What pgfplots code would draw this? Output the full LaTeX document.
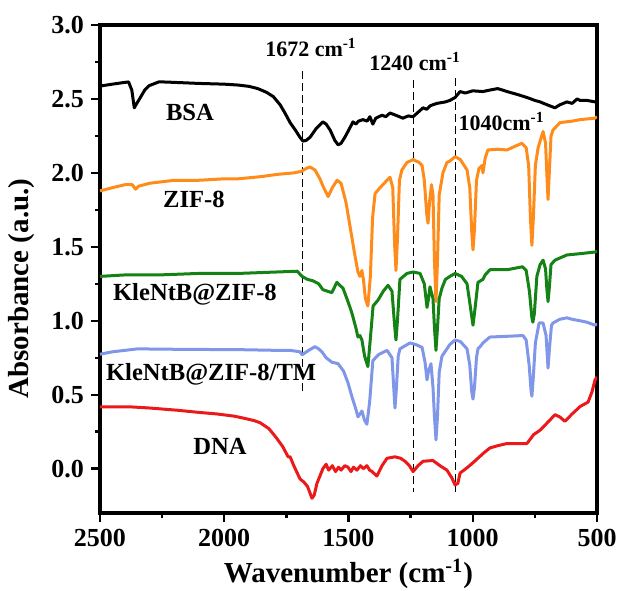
\documentclass[border=0pt]{standalone}
\usepackage{fontspec}
\setmainfont{Liberation Serif}
\usepackage{pgfplots}
\pgfplotsset{compat=1.18}

\definecolor{bsacol}{RGB}{0,0,0}
\definecolor{zifcol}{RGB}{255,140,26}
\definecolor{klecol}{RGB}{20,130,20}
\definecolor{tmcol}{RGB}{128,150,232}
\definecolor{dnacol}{RGB}{235,25,25}

\newcommand{\tickfont}{\fontsize{13}{15}\selectfont\bfseries}
\newcommand{\curvefont}{\fontsize{12.3}{14}\selectfont\bfseries}
\newcommand{\bandfont}{\fontsize{11}{13}\selectfont\bfseries}

\begin{document}
\begin{tikzpicture}
\useasboundingbox (-50pt,-38.5pt) rectangle (259.5pt,256.5pt);
\begin{axis}[
  at={(0,0)}, anchor=south west,
  scale only axis, width=248.5pt, height=244pt,
  xmin=500, xmax=2500, x dir=reverse,
  ymin=-0.3, ymax=3.0,
  xtick={500,1000,1500,2000,2500},
  xticklabels={500,1000,1500,2000,2500},
  ytick={0,0.5,1,1.5,2,2.5,3},
  yticklabels={0.0,0.5,1.0,1.5,2.0,2.5,3.0},
  minor x tick num=1, minor y tick num=1,
  tick align=outside, xtick pos=bottom, ytick pos=left,
  major tick length=4.5pt, minor tick length=2.5pt,
  axis line style={line width=1.6pt},
  every tick/.style={line width=1.2pt, black},
  ticklabel style={font=\tickfont},
  xlabel={Wavenumber (cm\textsuperscript{-1})},
  ylabel={Absorbance (a.u.)},
  label style={font=\fontsize{14.5}{17}\selectfont\bfseries},
  xlabel style={at={(axis description cs:0.5,-0.125)}, anchor=center},
  ylabel style={at={(axis description cs:-0.158,0.46)}, anchor=center},
  every axis plot/.append style={line width=1.5pt, line join=round},
]

% reference bands
\addplot[black, line width=0.5pt, dash pattern=on 4pt off 2pt] coordinates {(1685,2.69) (1685,0.50)};
\addplot[black, line width=0.5pt, dash pattern=on 4pt off 2pt] coordinates {(1240,2.63) (1240,-0.16)};
\addplot[black, line width=0.5pt, dash pattern=on 4pt off 2pt] coordinates {(1070,2.64) (1070,-0.16)};

% BSA
\addplot[bsacol] table {
2500 2.587
2450 2.600
2400 2.612
2385 2.615
2372 2.56
2362 2.44
2352 2.47
2341 2.50
2320 2.56
2302 2.59
2262 2.616
2200 2.612
2103 2.605
2000 2.600
1944 2.594
1900 2.585
1865 2.570
1830 2.545
1802 2.515
1775 2.46
1754 2.40
1735 2.34
1714 2.29
1695 2.24
1683 2.215
1670 2.22
1655 2.24
1630 2.30
1603 2.345
1590 2.33
1574 2.29
1555 2.22
1542 2.19
1530 2.20
1515 2.24
1502 2.28
1482 2.345
1470 2.33
1460 2.35
1442 2.36
1425 2.35
1414 2.38
1402 2.33
1390 2.37
1365 2.39
1350 2.38
1333 2.405
1310 2.39
1281 2.37
1260 2.385
1240 2.38
1220 2.41
1200 2.44
1185 2.43
1170 2.455
1144 2.47
1110 2.48
1092 2.49
1071 2.51
1051 2.55
1030 2.54
1000 2.555
960 2.55
931 2.56
900 2.57
880 2.56
862 2.55
820 2.53
782 2.51
750 2.49
729 2.48
700 2.46
669 2.44
650 2.46
621 2.48
600 2.47
580 2.50
568 2.49
540 2.49
508 2.48
500 2.48
};

% ZIF-8
\addplot[zifcol] table {
2500 1.878
2450 1.90
2400 1.92
2370 1.92
2357 1.89
2345 1.91
2300 1.93
2200 1.95
2103 1.95
2000 1.96
1944 1.96
1850 1.975
1786 1.99
1720 2.00
1690 2.01
1670 2.03
1655 2.04
1635 2.02
1615 1.96
1600 1.90
1582 1.84
1565 1.90
1546 1.95
1530 1.93
1510 1.80
1490 1.60
1475 1.45
1462 1.33
1454 1.30
1446 1.34
1440 1.28
1432 1.15
1422 1.10
1412 1.30
1403 1.70
1393 1.86
1373 1.90
1345 1.95
1333 1.97
1322 1.90
1314 1.50
1309 1.34
1303 1.55
1295 1.95
1285 2.02
1265 2.07
1240 2.09
1215 2.07
1204 2.05
1195 1.95
1185 1.72
1180 1.66
1174 1.80
1166 1.92
1160 1.85
1154 1.40
1148 1.13
1142 1.40
1135 1.85
1120 2.00
1104 2.07
1092 2.08
1071 2.11
1050 2.09
1023 2.02
1012 1.90
1004 1.60
999 1.48
993 1.62
985 1.95
975 2.03
963 2.05
959 2.00
950 2.10
939 2.155
900 2.16
862 2.155
830 2.18
802 2.20
785 2.17
775 2.05
768 1.70
762 1.51
756 1.70
748 2.05
737 2.17
717 2.28
707 2.20
702 2.00
697 1.82
692 2.00
685 2.25
677 2.29
649 2.34
600 2.35
568 2.36
508 2.37
500 2.38
};

% KleNtB@ZIF-8
\addplot[klecol] table {
2500 1.30
2400 1.31
2262 1.31
2103 1.32
1944 1.32
1786 1.33
1706 1.335
1687 1.30
1665 1.28
1643 1.27
1620 1.25
1603 1.21
1585 1.20
1567 1.19
1547 1.26
1535 1.24
1522 1.22
1500 1.12
1486 1.05
1470 0.95
1462 0.89
1454 0.90
1446 0.87
1435 0.76
1422 0.69
1411 0.90
1401 1.10
1381 1.14
1360 1.20
1341 1.24
1325 1.20
1315 0.98
1309 0.87
1303 1.00
1293 1.28
1265 1.32
1240 1.33
1212 1.32
1195 1.25
1184 1.09
1178 1.15
1172 1.23
1160 1.15
1154 0.95
1148 0.80
1142 0.95
1135 1.15
1124 1.22
1110 1.28
1092 1.30
1071 1.32
1045 1.30
1023 1.25
1010 1.10
999 0.97
991 1.08
979 1.26
959 1.28
950 1.31
931 1.345
862 1.345
800 1.365
785 1.34
772 1.20
762 1.02
758 0.99
752 1.05
742 1.30
729 1.38
717 1.41
707 1.35
702 1.22
697 1.13
692 1.22
685 1.38
669 1.41
621 1.445
560 1.455
508 1.465
500 1.47
};

% KleNtB@ZIF-8/TM
\addplot[tmcol] table {
2500 0.774
2450 0.79
2349 0.81
2250 0.808
2110 0.806
1950 0.805
1791 0.80
1735 0.80
1695 0.79
1687 0.77
1660 0.80
1635 0.825
1620 0.81
1607 0.79
1590 0.75
1567 0.72
1542 0.71
1520 0.66
1502 0.58
1485 0.48
1470 0.40
1462 0.35
1454 0.37
1446 0.39
1436 0.33
1426 0.30
1415 0.45
1402 0.73
1380 0.77
1345 0.80
1325 0.75
1318 0.55
1313 0.41
1307 0.55
1300 0.76
1293 0.81
1253 0.85
1230 0.84
1204 0.82
1192 0.72
1184 0.60
1178 0.66
1168 0.71
1160 0.55
1154 0.35
1148 0.195
1142 0.35
1135 0.65
1124 0.76
1092 0.84
1071 0.87
1050 0.86
1023 0.81
1012 0.70
1004 0.52
999 0.47
993 0.55
985 0.75
979 0.81
968 0.83
959 0.85
931 0.89
862 0.895
798 0.90
785 0.87
773 0.70
765 0.52
762 0.49
757 0.60
748 0.85
733 0.985
717 0.985
705 0.90
697 0.68
691 0.82
683 0.97
677 0.985
650 1.01
621 1.02
600 1.01
568 1.00
540 0.99
508 0.97
500 0.98
};

% DNA
\addplot[dnacol] table {
2500 0.418
2380 0.418
2300 0.41
2189 0.395
2100 0.38
2030 0.37
1960 0.355
1918 0.34
1880 0.325
1855 0.31
1820 0.27
1791 0.21
1765 0.15
1743 0.08
1735 0.08
1720 0.02
1695 -0.07
1680 -0.09
1665 -0.12
1647 -0.20
1638 -0.18
1627 -0.10
1615 -0.05
1603 0.0
1590 0.03
1580 -0.01
1565 0.02
1552 -0.02
1540 0.01
1530 -0.01
1515 0.02
1502 0.01
1490 -0.02
1480 0.01
1466 -0.01
1452 0.02
1440 0.0
1426 0.02
1415 -0.01
1405 -0.02
1386 -0.05
1365 0.02
1345 0.07
1313 0.08
1290 0.07
1273 0.05
1255 0.02
1240 -0.02
1220 0.02
1200 0.05
1160 0.055
1132 0.02
1104 -0.01
1085 -0.06
1071 -0.11
1060 -0.10
1051 -0.03
1020 0.01
999 0.04
960 0.10
931 0.14
900 0.155
862 0.17
820 0.17
782 0.17
755 0.23
729 0.26
700 0.31
669 0.365
650 0.35
629 0.32
600 0.37
568 0.42
536 0.45
520 0.52
508 0.60
500 0.62
};

% curve names
\node[font=\curvefont] at (axis cs:2138,2.41) {BSA};
\node[font=\curvefont] at (axis cs:2122,1.82) {ZIF-8};
\node[font=\curvefont] at (axis cs:2118,1.176) {KleNtB@ZIF-8};
\node[font=\curvefont] at (axis cs:2053,0.635) {KleNtB@ZIF-8/TM};
\node[font=\curvefont] at (axis cs:2017,0.149) {DNA};

% band positions
\node[font=\bandfont] at (axis cs:1651,2.845) {1672 cm\textsuperscript{-1}};
\node[font=\bandfont] at (axis cs:1232,2.75) {1240 cm\textsuperscript{-1}};
\node[font=\bandfont] at (axis cs:884,2.345) {1040cm\textsuperscript{-1}};
\end{axis}
\end{tikzpicture}
\end{document}
